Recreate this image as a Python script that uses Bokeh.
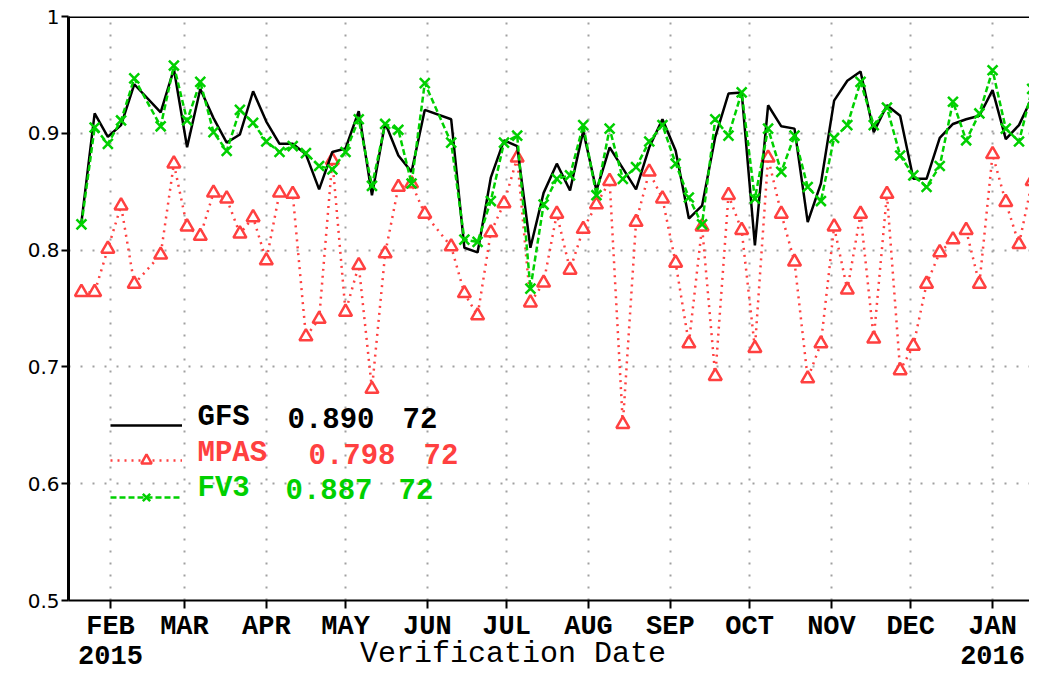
import pandas as pd
from datetime import datetime
from bokeh.plotting import figure
from bokeh.models import (FixedTicker, Span, Label, Legend, LegendItem, Range1d)
from bokeh.embed import file_html
from bokeh.resources import INLINE

# ---------------- data ----------------
all_dates = pd.date_range("2015-01-21", "2016-01-21", freq="5D")
missing_dates = pd.to_datetime(["2015-02-15", "2015-06-05"])
dates = all_dates.drop(missing_dates)

gfs = [0.824, 0.917, 0.897, 0.907, 0.942, 0.918, 0.955, 0.888, 0.938, 0.913,
       0.892, 0.899, 0.936, 0.910, 0.891, 0.891, 0.882, 0.852, 0.884, 0.887,
       0.919, 0.847, 0.909, 0.881, 0.867, 0.920, 0.912, 0.802, 0.798, 0.862,
       0.894, 0.889, 0.802, 0.849, 0.874, 0.851, 0.902, 0.851, 0.888, 0.870,
       0.852, 0.888, 0.912, 0.885, 0.827, 0.838, 0.897, 0.934, 0.935, 0.804,
       0.924, 0.906, 0.904, 0.824, 0.857, 0.928, 0.945, 0.953, 0.901, 0.924,
       0.915, 0.861, 0.861, 0.896, 0.908, 0.912, 0.915, 0.937, 0.895, 0.907,
       0.931, 0.902]

mpas = [0.764, 0.764, 0.801, 0.838, 0.771, 0.796, 0.874, 0.820, 0.812, 0.849,
        0.844, 0.814, 0.828, 0.791, 0.849, 0.848, 0.726, 0.741, 0.877, 0.747,
        0.787, 0.681, 0.797, 0.854, 0.857, 0.831, 0.803, 0.763, 0.744, 0.815,
        0.840, 0.879, 0.755, 0.772, 0.831, 0.783, 0.818, 0.839, 0.859, 0.651,
        0.824, 0.867, 0.844, 0.789, 0.720, 0.820, 0.692, 0.847, 0.817, 0.716,
        0.879, 0.831, 0.790, 0.690, 0.720, 0.820, 0.766, 0.831, 0.724, 0.848,
        0.697, 0.718, 0.771, 0.798, 0.809, 0.817, 0.771, 0.882, 0.841, 0.805,
        0.859, 0.799]

fv3 = [0.822, 0.905, 0.891, 0.911, 0.947, 0.906, 0.958, 0.911, 0.944, 0.901,
       0.885, 0.920, 0.909, 0.893, 0.884, 0.889, 0.883, 0.872, 0.869, 0.884,
       0.912, 0.855, 0.908, 0.903, 0.857, 0.943, 0.892, 0.809, 0.807, 0.842,
       0.892, 0.898, 0.767, 0.839, 0.861, 0.864, 0.907, 0.847, 0.904, 0.861,
       0.871, 0.893, 0.907, 0.874, 0.845, 0.822, 0.912, 0.898, 0.935, 0.844,
       0.904, 0.867, 0.898, 0.854, 0.842, 0.896, 0.907, 0.944, 0.907, 0.922,
       0.881, 0.864, 0.854, 0.872, 0.927, 0.894, 0.917, 0.954, 0.904, 0.893,
       0.938, 0.925]

month_starts = ["2015-02-01", "2015-03-01", "2015-04-01", "2015-05-01",
                "2015-06-01", "2015-07-01", "2015-08-01", "2015-09-01",
                "2015-10-01", "2015-11-01", "2015-12-01", "2016-01-01"]
month_labels = ["FEB\n2015", "MAR", "APR", "MAY", "JUN", "JUL", "AUG", "SEP",
                "OCT", "NOV", "DEC", "JAN\n2016"]

y_ticks = [0.5, 0.6, 0.7, 0.8, 0.9, 1.0]
y_labels = ["0.5", "0.6", "0.7", "0.8", "0.9", "1"]

x_title = "Verification Date"

legend_names = ["GFS", "MPAS", "FV3"]
legend_scores = ["0.890", "0.798", "0.887"]
legend_counts = ["72", "72", "72"]

RED = "#ff4040"
GREEN = "#00d000"
BLACK = "#000000"
legend_colors = [BLACK, RED, GREEN]

# ---------------- figure ----------------
month_ms = [int(pd.Timestamp(d).value // 10**6) for d in month_starts]

p = figure(width=1029, height=674, x_axis_type="datetime",
           x_range=Range1d(datetime(2015, 1, 16, 2, 24), datetime(2016, 1, 14, 23, 30)),
           y_range=Range1d(0.5, 1.0),
           output_backend="svg", toolbar_location=None,
           min_border_left=68, min_border_right=0, min_border_top=16,
           min_border_bottom=74)
p.outline_line_color = None
p.background_fill_color = "white"
p.border_fill_color = "white"

xa = p.xaxis[0]
xa.ticker = FixedTicker(ticks=month_ms, minor_ticks=[])
xa.major_label_overrides = dict(zip(month_ms, month_labels))
xa.axis_line_width = 2
xa.axis_line_color = "black"
xa.major_tick_out = 8
xa.major_tick_in = 0
xa.major_tick_line_width = 2
xa.minor_tick_line_color = None
xa.major_label_text_font = "Liberation Mono"
xa.major_label_text_font_style = "bold"
xa.major_label_text_font_size = "27px"
xa.major_label_text_line_height = 1.0
xa.major_label_text_color = "black"
xa.major_label_standoff = 3
# title sits on the same row as the year labels, left of the frame centre
xa.axis_label = x_title + "\u00a0" * 4
xa.axis_label_text_font = "Liberation Mono"
xa.axis_label_text_font_style = "normal"
xa.axis_label_text_font_size = "30px"
xa.axis_label_text_color = "black"
xa.axis_label_standoff = -38

ya = p.yaxis[0]
ya.ticker = FixedTicker(ticks=y_ticks, minor_ticks=[])
ya.major_label_overrides = dict(zip(y_ticks, y_labels))
ya.axis_line_width = 3
ya.axis_line_color = "black"
ya.major_tick_out = 7
ya.major_tick_in = 0
ya.major_tick_line_width = 2
ya.minor_tick_line_color = None
ya.major_label_text_font = "DejaVu Sans"
ya.major_label_text_font_size = "20px"
ya.major_label_text_color = "black"
ya.major_label_standoff = 2

p.grid.grid_line_color = "#a0a0a0"
p.grid.grid_line_dash = "2 10"
p.grid.grid_line_width = 2

p.add_layout(Span(location=1.0, dimension="width", line_color="black", line_width=3))

# ---------------- series ----------------
r_m_line = p.line(dates, mpas, line_color=RED, line_width=2.5, line_dash="2 5")
r_m_pts = p.scatter(dates, mpas, marker="triangle", size=13, line_color=RED,
                    line_width=2.5, fill_color="white")
r_g_line = p.line(dates, gfs, line_color=BLACK, line_width=2.5)
r_f_line = p.line(dates, fv3, line_color=GREEN, line_width=2.5, line_dash="6 3")
r_f_pts = p.scatter(dates, fv3, marker="x", size=14, line_color=GREEN, line_width=2.5)

# ---------------- legend ----------------
legend_renderers = [[r_g_line], [r_m_line, r_m_pts], [r_f_line, r_f_pts]]
legend_glyph_y = [162, 127, 90]
for rs, ly in zip(legend_renderers, legend_glyph_y):
    leg = Legend(items=[LegendItem(label=" ", renderers=rs)], location=(42, ly),
                 glyph_width=72, glyph_height=26, padding=0, margin=0, spacing=0,
                 label_standoff=0, label_width=0, label_height=26,
                 border_line_color=None, background_fill_alpha=0)
    p.add_layout(leg)

name_x = [129, 129, 129]
score_x = [219, 240, 217]
count_x = [334, 355, 330]
text_y = [183, 147, 112]
for i in range(3):
    for txt, tx in ((legend_names[i], name_x[i]), (legend_scores[i], score_x[i]),
                    (legend_counts[i], count_x[i])):
        p.add_layout(Label(x=tx, y=text_y[i], x_units="screen", y_units="screen",
                           text=txt, text_color=legend_colors[i],
                           text_font="Liberation Mono", text_font_style="bold",
                           text_font_size="29px", text_baseline="middle",
                           text_align="left"))

open("out.html", "w").write(file_html(p, INLINE))
